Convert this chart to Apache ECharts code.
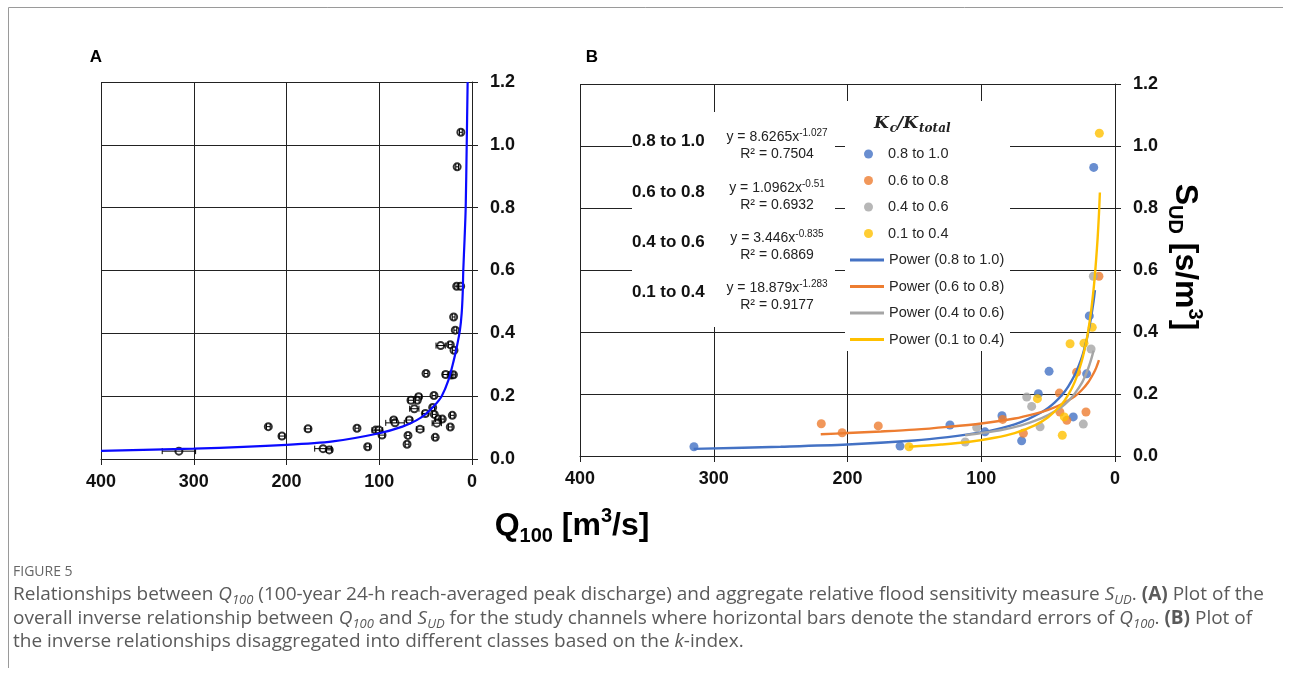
<!DOCTYPE html>
<html>
<head>
<meta charset="utf-8">
<script src="https://cdn.jsdelivr.net/npm/echarts@6/dist/echarts.min.js"></script>
<style>
  html, body { margin: 0; padding: 0; background: #fff; }
  #chart { width: 1290px; height: 675px; }
</style>
</head>
<body>
<div id="chart"></div>
<script>
// ---- panel A: all study channels (Q100 [m3/s], S_UD [s/m3], std. error of Q100)
const qA = [12, 16, 16.5, 12.2, 19.8, 18, 33.8, 23.4, 19.4, 49.6, 28.4, 22.6, 20, 41, 57.5, 65.8, 59, 62.2, 42.4, 50.3,
  40.6, 21.2, 36.3, 32, 38, 84.4, 83, 67.6, 23.4, 56, 39.6, 69, 70, 103.8, 100.3, 97, 124, 112.5, 176.8, 219.6,
  204.9, 160.6, 153.9, 316]
const sA = [1.04, 0.93, 0.55, 0.55, 0.452, 0.41, 0.361, 0.364, 0.346, 0.272, 0.269, 0.267, 0.268, 0.202, 0.198, 0.187, 0.187, 0.16, 0.164, 0.145,
  0.142, 0.139, 0.127, 0.127, 0.114, 0.124, 0.115, 0.124, 0.102, 0.095, 0.069, 0.075, 0.047, 0.092, 0.092, 0.076, 0.098, 0.039, 0.096, 0.103,
  0.073, 0.033, 0.029, 0.025]
const errA = [1.5, 1.5, 2, 2, 1.5, 1.5, 5, 2, 1.5, 2, 3, 2, 2, 2, 3, 3, 2, 5, 2, 3,
  2, 2, 3, 2, 5, 3, 10, 3, 2, 4, 2, 2, 2, 4, 4, 3, 2, 2, 3, 2,
  3, 9, 3, 18]
// overall power fit
const fitAQ = [400, 300, 200, 150, 100, 75, 60, 50, 40, 32.7, 25.5, 20, 16.5, 13, 11.1, 10, 9.4, 8, 6.8, 5.7, 4.7]
const fitAS = [0.026, 0.033, 0.045, 0.056, 0.082, 0.103, 0.123, 0.143, 0.172, 0.2, 0.25, 0.31, 0.355, 0.41, 0.465, 0.53, 0.6, 0.7, 0.8, 1.0, 1.2]

// ---- panel B: classes of Kc/Ktotal
const classNames = ['0.8 to 1.0', '0.6 to 0.8', '0.4 to 0.6', '0.1 to 0.4']
const classColors = ['#4472c4', '#ed7d31', '#a5a5a5', '#ffc000']
const qB1 = [314.8, 160.7, 123.4, 97.2, 84.5, 69.8, 57.3, 49.3, 31.2, 21.2, 19.2, 15.9]
const sB1 = [0.030, 0.032, 0.100, 0.078, 0.130, 0.049, 0.201, 0.273, 0.126, 0.265, 0.452, 0.931]
const qB2 = [219.6, 204, 177, 84, 68.5, 41.6, 41.2, 36, 28.7, 21.7, 12]
const sB2 = [0.104, 0.075, 0.097, 0.118, 0.073, 0.203, 0.142, 0.115, 0.270, 0.142, 0.58]
const qB3 = [112, 103.4, 66, 62.3, 56, 23.7, 17.9, 16.2]
const sB3 = [0.045, 0.092, 0.19, 0.16, 0.094, 0.103, 0.345, 0.58]
const qB4 = [154, 58, 37.9, 39.4, 33.6, 23.2, 17, 11.7]
const sB4 = [0.030, 0.185, 0.126, 0.067, 0.362, 0.364, 0.415, 1.041]
// power trend lines
const fitB1Q = [315, 250, 200, 150, 125, 100, 85, 75, 65, 55, 50, 45, 40, 35, 30, 27, 24, 22, 20, 18, 16, 15]
const fitB1S = [0.023, 0.030, 0.037, 0.050, 0.061, 0.076, 0.090, 0.102, 0.119, 0.141, 0.155, 0.173, 0.195, 0.224, 0.262, 0.292, 0.329, 0.361, 0.398, 0.444, 0.500, 0.535]
const fitB2Q = [220, 200, 175, 150, 125, 100, 75, 60, 50, 40, 30, 25, 20, 16, 14, 12]
const fitB2S = [0.070, 0.074, 0.079, 0.085, 0.094, 0.105, 0.121, 0.136, 0.149, 0.167, 0.193, 0.212, 0.238, 0.267, 0.285, 0.309]
const fitB3Q = [112, 100, 85, 70, 60, 50, 40, 35, 30, 25, 22, 20, 18, 16]
const fitB3S = [0.067, 0.074, 0.084, 0.099, 0.113, 0.132, 0.158, 0.177, 0.202, 0.234, 0.261, 0.283, 0.309, 0.340]
const fitB4Q = [154, 130, 110, 90, 75, 60, 50, 40, 35, 30, 25, 22, 20, 18, 16, 15, 14, 13, 12, 11.3]
const fitB4S = [0.030, 0.037, 0.045, 0.059, 0.074, 0.099, 0.125, 0.166, 0.197, 0.240, 0.304, 0.358, 0.404, 0.463, 0.538, 0.585, 0.640, 0.702, 0.780, 0.850]
const eqText = ['8.6265x', '1.0962x', '3.446x', '18.879x']
const eqPow = ['-1.027', '-0.51', '-0.835', '-1.283']
const r2Text = ['0.7504', '0.6932', '0.6869', '0.9177']

const zip = (a, b) => a.map((v, i) => [v, b[i]])
const scatB = [zip(qB1, sB1), zip(qB2, sB2), zip(qB3, sB3), zip(qB4, sB4)]
const fitB = [zip(fitB1Q, fitB1S), zip(fitB2Q, fitB2S), zip(fitB3Q, fitB3S), zip(fitB4Q, fitB4S)]

const lineCol = '#222'
const axisFont = 'Liberation Sans'

const xAxisCfg = (i) => ({
  gridIndex: i, type: 'value', inverse: true, min: 0, max: 400, interval: 100,
  axisLine: { show: true, onZero: false, lineStyle: { color: lineCol, width: 1 } },
  axisTick: { show: true, length: 6, lineStyle: { color: lineCol } },
  axisLabel: { fontSize: 18, fontWeight: 'bold', color: '#111', fontFamily: axisFont, margin: 14 },
  splitLine: { show: true, lineStyle: { color: lineCol, width: 1 } }
})
const yAxisCfg = (i) => ({
  gridIndex: i, type: 'value', position: 'right', min: 0, max: 1.2, interval: 0.2,
  axisLine: { show: true, onZero: false, lineStyle: { color: lineCol, width: 1 } },
  axisTick: { show: true, length: 6, lineStyle: { color: lineCol } },
  axisLabel: { fontSize: 18, fontWeight: 'bold', color: '#111', fontFamily: axisFont, margin: 18,
    formatter: v => v.toFixed(1) },
  splitLine: { show: true, lineStyle: { color: lineCol, width: 1 } }
})

const series = []
series.push({
  name: 'all', type: 'scatter', xAxisIndex: 0, yAxisIndex: 0,
  data: zip(qA, sA), symbol: 'emptyCircle', symbolSize: 7,
  itemStyle: { color: '#000', borderColor: '#000', borderWidth: 1.2 }, z: 3
})
series.push({
  name: 'err', type: 'custom', xAxisIndex: 0, yAxisIndex: 0,
  data: qA.map((q, i) => [q, sA[i], errA[i]]),
  encode: { x: 0, y: 1 }, z: 4,
  renderItem: (params, api) => {
    const q = api.value(0), s = api.value(1), e = api.value(2)
    const p1 = api.coord([q - e, s])
    const p2 = api.coord([q + e, s])
    const st = { stroke: '#000', lineWidth: 1 }
    return {
      type: 'group', children: [
        { type: 'line', shape: { x1: p1[0], y1: p1[1], x2: p2[0], y2: p2[1] }, style: st },
        { type: 'line', shape: { x1: p1[0], y1: p1[1] - 3, x2: p1[0], y2: p1[1] + 3 }, style: st },
        { type: 'line', shape: { x1: p2[0], y1: p2[1] - 3, x2: p2[0], y2: p2[1] + 3 }, style: st }
      ]
    }
  }
})
series.push({
  name: 'fitA', type: 'line', xAxisIndex: 0, yAxisIndex: 0,
  data: zip(fitAQ, fitAS), smooth: 0.3, showSymbol: false, symbol: 'none',
  lineStyle: { color: '#0a0aff', width: 2.2 }, z: 5
})
classNames.forEach((n, i) => {
  series.push({
    name: n, type: 'scatter', xAxisIndex: 1, yAxisIndex: 1,
    data: scatB[i], symbol: 'circle', symbolSize: 9,
    itemStyle: { color: classColors[i] }, z: 3
  })
})
classNames.forEach((n, i) => {
  series.push({
    name: 'Power (' + n + ')', type: 'line', xAxisIndex: 1, yAxisIndex: 1,
    data: fitB[i], smooth: 0.3, showSymbol: false, symbol: 'none',
    lineStyle: { color: classColors[i], width: 2.4 }, itemStyle: { color: classColors[i] }, z: 4
  })
})

const legendText = { fontSize: 14.5, color: '#262626', fontFamily: axisFont, lineHeight: 18 }

// equation box rows
const eqRows = [141, 192, 242, 292]
const graphic = [
  // figure frame
  { type: 'line', shape: { x1: 8.5, y1: 7.5, x2: 1283, y2: 7.5 }, style: { stroke: '#9a9a9a', lineWidth: 1 } },
  { type: 'line', shape: { x1: 8.5, y1: 7.5, x2: 8.5, y2: 668 }, style: { stroke: '#9a9a9a', lineWidth: 1 } },
  { type: 'text', x: 96, y: 57, style: { text: 'A', font: 'bold 17px Liberation Sans', fill: '#000', align: 'center', verticalAlign: 'middle' } },
  { type: 'text', x: 592, y: 57, style: { text: 'B', font: 'bold 17px Liberation Sans', fill: '#000', align: 'center', verticalAlign: 'middle' } },
  // white boxes over the gridlines in panel B
  { type: 'rect', z: 6, shape: { x: 632, y: 112, width: 203, height: 215 }, style: { fill: '#fff' } },
  { type: 'rect', z: 6, shape: { x: 845, y: 101, width: 165, height: 250 }, style: { fill: '#fff' } },
  {
    type: 'text', z: 10, x: 874, y: 124,
    style: {
      text: '{k|K}{s|c}{k|/K}{s|total}', align: 'left', verticalAlign: 'middle',
      rich: {
        k: { fontFamily: 'DejaVu Serif', fontStyle: 'italic', fontWeight: 'bold', fontSize: 17, lineHeight: 22, fill: '#222' },
        s: { fontFamily: 'DejaVu Serif', fontStyle: 'italic', fontWeight: 'bold', fontSize: 12, lineHeight: 14, verticalAlign: 'bottom', fill: '#222', padding: [0, 0, 0, 1] }
      }
    }
  },
  // axis names
  {
    type: 'text', x: 572, y: 526,
    style: {
      text: '{b|Q}{sub|100}{b| [m}{sup|3}{b|/s]}', align: 'center', verticalAlign: 'middle',
      rich: {
        b: { fontFamily: axisFont, fontWeight: 'bold', fontSize: 32, lineHeight: 40, fill: '#000' },
        sub: { fontFamily: axisFont, fontWeight: 'bold', fontSize: 20, lineHeight: 20, verticalAlign: 'bottom', fill: '#000' },
        sup: { fontFamily: axisFont, fontWeight: 'bold', fontSize: 20, lineHeight: 24, verticalAlign: 'top', fill: '#000' }
      }
    }
  },
  {
    type: 'text', x: 1185, y: 257, rotation: -Math.PI / 2,
    style: {
      text: '{b|S}{sub|UD}{b| [s/m}{sup|3}{b|]}', align: 'center', verticalAlign: 'middle',
      rich: {
        b: { fontFamily: axisFont, fontWeight: 'bold', fontSize: 32, lineHeight: 40, fill: '#000' },
        sub: { fontFamily: axisFont, fontWeight: 'bold', fontSize: 20, lineHeight: 22, verticalAlign: 'bottom', fill: '#000' },
        sup: { fontFamily: axisFont, fontWeight: 'bold', fontSize: 20, lineHeight: 24, verticalAlign: 'top', fill: '#000' }
      }
    }
  },
  // caption
  { type: 'text', x: 13, y: 572, style: { text: 'FIGURE 5', font: '14px Open Sans', fill: '#666', verticalAlign: 'middle' } }
]
eqRows.forEach((y, i) => {
  graphic.push({ type: 'text', z: 10, x: 632, y: y, style: { text: classNames[i], font: 'bold 17px Liberation Sans', fill: '#111', verticalAlign: 'middle' } })
  graphic.push({
    type: 'text', z: 10, x: 777, y: y - 4,
    style: {
      text: '{t|y = ' + eqText[i] + '}{p|' + eqPow[i] + '}', align: 'center', verticalAlign: 'middle',
      rich: {
        t: { fontFamily: axisFont, fontSize: 14, lineHeight: 18, fill: '#222' },
        p: { fontFamily: axisFont, fontSize: 10, lineHeight: 10, verticalAlign: 'top', fill: '#222' }
      }
    }
  })
  graphic.push({ type: 'text', z: 10, x: 777, y: y + 13, style: { text: 'R² = ' + r2Text[i], font: '14px Liberation Sans', fill: '#222', align: 'center', verticalAlign: 'middle' } })
})

const capRich = {
  i: { fontFamily: 'Open Sans', fontStyle: 'italic', fontSize: 19, lineHeight: 24, fill: '#5a5a5a' },
  is: { fontFamily: 'Open Sans', fontStyle: 'italic', fontSize: 13, lineHeight: 14, verticalAlign: 'bottom', fill: '#5a5a5a' },
  b: { fontFamily: 'Open Sans', fontWeight: 'bold', fontSize: 19, lineHeight: 24, fill: '#5a5a5a' },
  n: { fontFamily: 'Open Sans', fontSize: 19, lineHeight: 24, fill: '#5a5a5a' }
}
const capLines = [
  '{n|Relationships between }{i|Q}{is|100}{n| (100-year 24-h reach-averaged peak discharge) and aggregate relative flood sensitivity measure }{i|S}{is|UD}{n|. }{b|(A)}{n| Plot of the}',
  '{n|overall inverse relationship between }{i|Q}{is|100}{n| and }{i|S}{is|UD}{n| for the study channels where horizontal bars denote the standard errors of }{i|Q}{is|100}{n|. }{b|(B)}{n| Plot of}',
  '{n|the inverse relationships disaggregated into different classes based on the }{i|k}{n|-index.}'
]
const capY = [595, 619, 642]
capLines.forEach((t, i) => {
  graphic.push({ type: 'text', x: 13, y: capY[i], style: { text: t, rich: capRich, verticalAlign: 'middle' } })
})

const chart = echarts.init(document.getElementById('chart'))
chart.setOption({
  animation: false,
  backgroundColor: '#fff',
  grid: [
    { left: 101, top: 82, width: 371, height: 377 },
    { left: 580, top: 84, width: 535, height: 372 }
  ],
  xAxis: [xAxisCfg(0), xAxisCfg(1)],
  yAxis: [yAxisCfg(0), yAxisCfg(1)],
  legend: [
    {
      data: classNames, left: 864, top: 145, orient: 'vertical', z: 10, padding: 0,
      icon: 'circle', itemWidth: 9, itemHeight: 9, itemGap: 8.5, selectedMode: false,
      textStyle: Object.assign({ padding: [0, 0, 0, 10] }, legendText)
    },
    {
      data: classNames.map(n => 'Power (' + n + ')'), left: 850, top: 251, orient: 'vertical', z: 10, padding: 0,
      icon: 'rect', itemWidth: 34, itemHeight: 3, itemGap: 8.5, selectedMode: false,
      textStyle: legendText
    }
  ],
  series: series,
  graphic: graphic
})
</script>
</body>
</html>
